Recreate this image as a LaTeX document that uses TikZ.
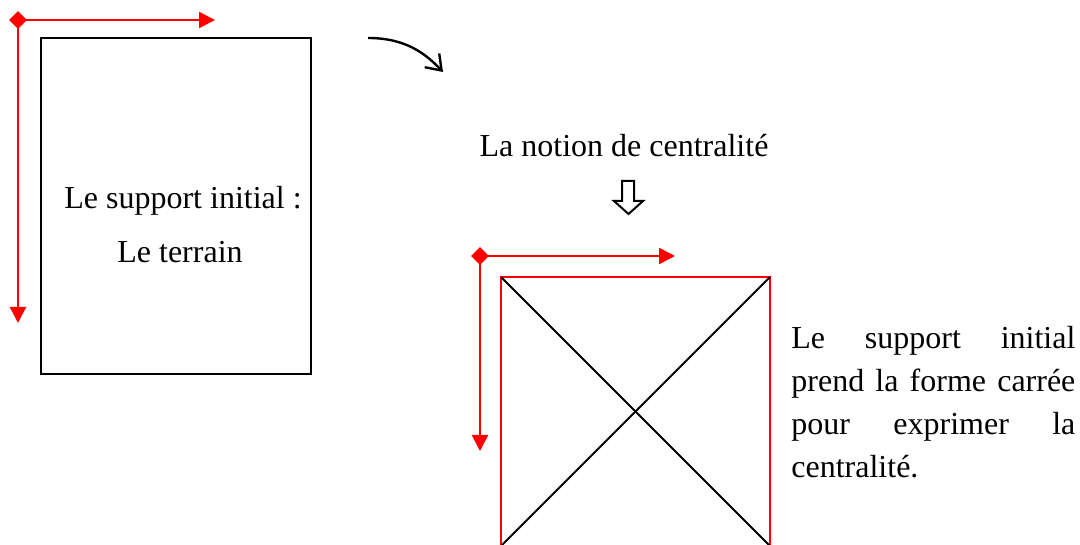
\documentclass[tikz,border=0pt]{standalone}
\usepackage{fontspec}
\setmainfont{Liberation Serif}
\usepackage{tikz}
\usetikzlibrary{arrows.meta,positioning,shapes.geometric}
\definecolor{axis}{HTML}{FF0000}

\begin{document}
\begin{tikzpicture}[x=.5pt,y=.5pt,
  axe/.style={axis,line width=1.2pt,-{Triangle[length=8pt,width=8pt]}},
  origine/.style={diamond,fill=axis,inner sep=0pt,minimum size=9pt},
  texte/.style={font=\fontsize{16pt}{21.5pt}\selectfont,inner sep=0pt}]
\useasboundingbox (0,0) rectangle (1080,545);
% support initial : le terrain
\draw[line width=1.1pt] (41,507) rectangle (311,171);
\node[texte,anchor=base] (support) at (183,336){Le support initial :};
\node[texte,anchor=base] (terrain) at (180,282){Le terrain};
% axes of the first frame
\coordinate (hG) at (215,525);
\coordinate (vG) at (18,222);
\draw[axe] (18,525) -- (hG);
\draw[axe] (18,525) -- (vG);
\node[origine] (oG) at (18,525){};
% passage to the square
\coordinate (depart) at (368,507);
\coordinate (arrivee) at (443,473);
\draw[line width=1.2pt,-{Straight Barb[length=7pt,width=10pt]}] (depart) .. controls (405,507) and (425,492) .. (arrivee);
\node[texte,anchor=base] (notion) at (624,388){La notion de centralit\'e};
\draw[line width=1pt,line join=miter] (622,364) -- (634,364) -- (634,344) -- (643,344) -- (628.5,331)
  -- (614,344) -- (622,344) -- cycle;
% square form
\clip (0,0) rectangle (1080,545);
\draw[axis,line width=1.2pt] (501,-2) -- (501,268) -- (770,268) -- (770,-2);
\draw[line width=1pt] (501,268) -- (770,-1);
\draw[line width=1pt] (770,268) -- (501,-1);
\coordinate (hD) at (675,289);
\coordinate (vD) at (480,94);
\draw[axe] (480,289) -- (hD);
\draw[axe] (480,289) -- (vD);
\node[origine] (oD) at (480,289){};
\node[texte,anchor=north west,align=left] (legende) at (791,219){%
  \makebox[142pt][s]{Le support initial}\\
  \makebox[142pt][s]{prend la forme carr\'ee}\\
  \makebox[142pt][s]{pour exprimer la}\\
  centralit\'e.};
\end{tikzpicture}
\end{document}
